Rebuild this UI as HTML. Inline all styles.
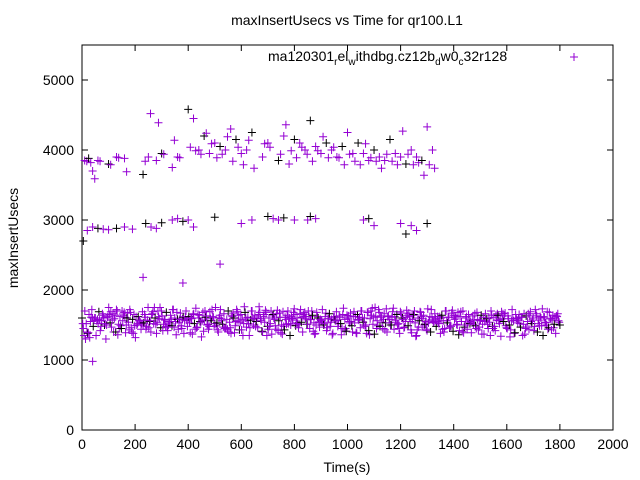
<!DOCTYPE html>
<html><head><meta charset="utf-8"><style>
body{margin:0;background:#fff;}
svg{display:block;font-family:"Liberation Sans",sans-serif;}
</style></head><body>
<svg id="chart" width="640" height="480" viewBox="0 0 640 480">
<text x="347" y="25" font-size="14" text-anchor="middle">maxInsertUsecs vs Time for qr100.L1</text>
<text transform="translate(18,238) rotate(-90)" font-size="14" text-anchor="middle">maxInsertUsecs</text>
<text x="347" y="472" font-size="14" text-anchor="middle">Time(s)</text>
<rect x="82" y="45" width="531" height="385" fill="none" stroke="#000" stroke-width="1"/>
<g id="ticks"></g>
<g id="pts"></g>
<g>
<text x="268" y="61" font-size="14">ma120301<tspan font-size="10" dy="4">r</tspan><tspan dy="-4">el</tspan><tspan font-size="10" dy="4">w</tspan><tspan dy="-4">ithdbg.cz12b</tspan><tspan font-size="10" dy="4">d</tspan><tspan dy="-4">w0</tspan><tspan font-size="10" dy="4">c</tspan><tspan dy="-4">32r128</tspan></text>
<path d="M570 57h8M574 53v8" stroke="#9400d3" stroke-width="1"/>
</g>
</svg>
<script>
const xTicks=[0,200,400,600,800,1000,1200,1400,1600,1800,2000];
const yTicks=[0,1000,2000,3000,4000,5000];
const bandVals=[1600,1450,1700,1520,1380,1650,1550,1720,1480,1600,1350,1580,1690,1420,1560,1640,1500,1300,1610,1750,
1530,1470,1660,1590,1400,1700,1510,1620,1450,1560,1680,1390,1600,1540,1720,1460,1580,1650,1320,1500,
1620,1570,1440,1690,1530,1610,1480,1750,1550,1400,1660,1520,1600,1380,1700,1590,1460,1630,1510,1570,
1680,1420,1550,1640,1490,1720,1600,1360,1580,1530,1670,1450,1610,1560,1700,1480,1620,1390,1590,1650,
1520,1740,1470,1600,1550,1330,1680,1570,1610,1500,1440,1690,1560,1620,1480,1750,1530,1400,1640,1590,
1510,1660,1450,1580,1700,1540,1380,1620,1600,1490,1720,1560,1430,1650,1580,1520,1680,1470,1610,1350,
1570,1700,1500,1630,1550,1460,1760,1590,1410,1620,1540,1680,1480,1600,1520,1370,1650,1580,1440,1710,
1560,1610,1500,1690,1430,1580,1640,1520,1350,1620,1570,1730,1490,1600,1460,1660,1540,1400,1620,1590,
1510,1700,1450,1580,1640,1530,1380,1680,1600,1470,1560,1720,1500,1620,1420,1590,1660,1540,1360,1610,
1570,1690,1480,1630,1520,1450,1740,1580,1410,1600,1550,1670,1490,1620,1530,1390,1650,1570,1460,1700,
1540,1600,1500,1680,1420,1590,1640,1510,1370,1620,1560,1720,1480,1610,1450,1660,1530,1400,1630,1580,
1500,1690,1440,1570,1650,1520,1380,1670,1600,1460,1550,1710,1490,1620,1430,1580,1650,1530,1350,1600,
1560,1680,1470,1640,1510,1440,1730,1570,1400,1610,1540,1660,1480,1620,1520,1380,1640,1560,1450,1700,
1530,1610,1490,1670,1410,1580,1630,1500,1360,1620,1550,1700,1470,1600,1440,1650,1520,1390,1630,1570,
1490,1680,1430,1560,1640,1510,1370,1660,1590,1450,1540,1700,1480,1610,1420,1570,1640,1520,1340,1590,
1550,1670,1460,1630,1500,1430,1720,1560,1390,1600,1530,1650,1470,1610,1510,1370,1630,1550,1440,1690,
1520,1600,1480,1660,1400,1570,1620,1490,1350,1610,1540,1690,1460,1590,1430,1640,1510,1380,1620,1560,1500];
const bandEnd=1800;
const midTimes=[5,20,40,60,80,100,130,160,190,240,260,280,300,340,360,380,400,420,500,600,640,700,720,740,760,800,850,860,880,1060,1080,1100,1200,1220,1240,1260,1300];
const midVals=[2700,2850,2900,2880,2870,2860,2880,2900,2870,2950,2900,2880,2960,3000,3020,2980,3000,2900,3040,2950,3000,3050,3020,3000,3030,3000,3000,3050,3020,3000,3020,2920,2950,2800,2920,2850,2950];
const topTimes=[10,25,40,60,100,130,160,230,250,280,300,340,360,400,420,440,460,480,500,520,540,560,580,600,620,640,680,700,740,760,780,800,820,840,860,880,900,920,940,960,980,1000,1020,1040,1060,1080,1100,1120,1140,1160,1180,1200,1220,1240,1260,1280,1300,1320];
const topVals=[3850,3880,3700,3850,3800,3900,3880,3650,3900,3850,3950,3750,3900,4580,4450,4000,4200,3950,4100,4050,4000,4300,4150,3950,4000,4250,3900,4100,3850,4200,3800,4150,4100,4000,4420,4050,3950,4100,4000,3900,4050,4250,3950,4100,3950,3850,4000,3900,3850,4150,3950,3900,3800,4000,3900,3850,4330,4000];
const outTimes=[40,230,380,520];
const outVals=[980,2180,2100,2370];
const W0=82,W1=613,H0=430,H1=45;
const sx=v=>W0+(v-0)/2000*(W1-W0);
const sy=v=>H0-(v-0)/5500*(H0-H1);
const NS='http://www.w3.org/2000/svg';
const tg=document.getElementById('ticks');
function ln(g,d,c){const p=document.createElementNS(NS,'path');p.setAttribute('d',d);p.setAttribute('stroke',c);p.setAttribute('fill','none');g.appendChild(p);return p;}
xTicks.forEach(t=>{const x=sx(t);ln(tg,`M${x} ${H0}v-6M${x} ${H1}v6`,'#000');
const tx=document.createElementNS(NS,'text');


tx.setAttribute('x',x);tx.setAttribute('y',H0+19);tx.setAttribute('font-size','14');tx.setAttribute('text-anchor','middle');tx.textContent=t;tg.appendChild(tx);});
yTicks.forEach(t=>{const y=sy(t);ln(tg,`M${W0} ${y}h6M${W1} ${y}h-6`,'#000');
const tx=document.createElementNS(NS,'text');


tx.setAttribute('x',W0-8);tx.setAttribute('y',y+5);tx.setAttribute('font-size','14');tx.setAttribute('text-anchor','end');tx.textContent=t;tg.appendChild(tx);});
const pg=document.getElementById('pts');
function plus(t,v,c){const x=sx(t),y=sy(v);const p=ln(pg,`M${x-4} ${y}h8M${x} ${y-4}v8`,c);

}
const step=bandEnd/(bandVals.length-1);
bandVals.forEach((v,i)=>{const t=i*step;plus(t,v,i%4===0?'#000':'#9400d3');if(i<bandVals.length-1)plus(t+step/2,bandVals[(i*7+3)%bandVals.length],'#9400d3');});
midTimes.forEach((t,i)=>plus(t,midVals[i],i%3===0?'#000':'#9400d3'));
topTimes.forEach((t,i)=>{plus(t,topVals[i],i%3===1?'#000':'#9400d3');plus(t+8,topVals[(i+5)%topVals.length]-60,'#9400d3');});
outTimes.forEach((t,i)=>plus(t,outVals[i],'#9400d3'));
</script>
</body></html>
